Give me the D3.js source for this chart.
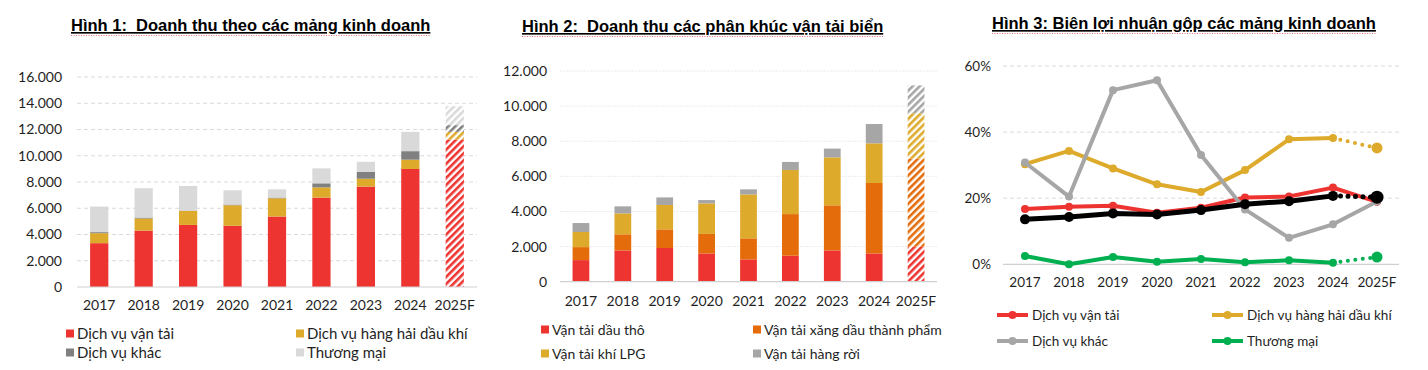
<!DOCTYPE html>
<html>
<head>
<meta charset="utf-8">
<script src="https://cdn.jsdelivr.net/npm/d3@7"></script>
<style>
  body { margin: 0; background: #fff; }
  svg { display: block; }
  .tick-label { font-family: Lato, "Open Sans", sans-serif; fill: #1f1f1f; }
  .title { font-family: "Liberation Sans", Arial, sans-serif; font-weight: bold; font-size: 16.5px; text-decoration: underline; fill: #000; white-space: pre; }
</style>
</head>
<body>
<div id="chart"></div>
<script>
// DATA
const years = ["2017", "2018", "2019", "2020", "2021", "2022", "2023", "2024", "2025F"];

// Hinh 1 - doanh thu theo mang (ty dong)
const rev_transport = [3340, 4300, 4730, 4660, 5370, 6810, 7650, 8990, 11240];
const rev_oilgas    = [760, 920, 1070, 1570, 1390, 780, 600, 710, 580];
const rev_other     = [80, 70, 20, 50, 50, 310, 530, 650, 510];
const rev_trade     = [1950, 2230, 1880, 1090, 630, 1140, 760, 1470, 1440];
const rev_names = ["Dịch vụ vận tải", "Dịch vụ hàng hải dầu khí", "Dịch vụ khác", "Thương mại"];
const rev_ticks = [0, 2000, 4000, 6000, 8000, 10000, 12000, 14000, 16000];

// Hinh 2 - doanh thu phan khuc van tai bien
const seg_crude    = [1230, 1780, 1920, 1610, 1270, 1480, 1780, 1610, 1990];
const seg_products = [740, 920, 1060, 1110, 1200, 2370, 2570, 4010, 5030];
const seg_lpg      = [860, 1190, 1390, 1740, 2500, 2510, 2730, 2260, 2570];
const seg_bulk     = [510, 400, 430, 190, 290, 460, 500, 1100, 1590];
const seg_names = ["Vận tải dầu thô", "Vận tải xăng dầu thành phẩm", "Vận tải khí LPG", "Vận tải hàng rời"];
const seg_ticks = [0, 2000, 4000, 6000, 8000, 10000, 12000];

// Hinh 3 - bien loi nhuan gop (%)
const gm_transport = [16.7, 17.4, 17.7, 15.6, 17.1, 20.2, 20.5, 23.2, 18.9];
const gm_oilgas    = [30.3, 34.3, 29.0, 24.2, 21.9, 28.5, 37.8, 38.2, 35.2];
const gm_other     = [30.8, 20.5, 52.7, 55.7, 33.1, 16.6, 8.0, 12.1, 19.0];
const gm_trade     = [2.5, 0.0, 2.2, 0.8, 1.6, 0.6, 1.2, 0.5, 2.2];
const gm_total     = [13.6, 14.3, 15.4, 15.1, 16.4, 18.2, 19.1, 20.7, 20.3];
const gm_names = ["Dịch vụ vận tải", "Dịch vụ hàng hải dầu khí", "Dịch vụ khác", "Thương mại"];
const gm_ticks = [0, 20, 40, 60];

//HELPERS
const vn = d3.formatLocale({decimal: ",", thousands: ".", grouping: [3], currency: ["", ""]});
const fmtNum = vn.format(",.0f");

const W = 1428, H = 370;
const svg = d3.select("#chart").append("svg")
    .attr("width", W)
    .attr("height", H)
    .attr("viewBox", [0, 0, W, H]);
const defs = svg.append("defs");

function hatch(id, color) {
    const p = defs.append("pattern")
        .attr("id", id)
        .attr("patternUnits", "userSpaceOnUse")
        .attr("width", 5)
        .attr("height", 5)
        .attr("patternTransform", "rotate(45)");
    p.append("rect").attr("width", 5).attr("height", 5).attr("fill", "#fff");
    p.append("rect").attr("width", 2.6).attr("height", 5).attr("fill", color);
    return `url(#${id})`;
}

function title(x, y, text) {
    const t = svg.append("text")
        .attr("class", "title")
        .attr("x", x)
        .attr("y", y)
        .text(text);
    const w = t.node().getComputedTextLength();
    // spell-check squiggle under the title
    svg.append("line")
        .attr("x1", x).attr("x2", x + w)
        .attr("y1", y + 4.5).attr("y2", y + 4.5)
        .attr("stroke", "#e05050")
        .attr("stroke-width", 0.8)
        .attr("stroke-dasharray", "1,1.5");
}

function styleAxis(a, size) {
    a.select(".domain").remove();
    a.selectAll("text").attr("class", "tick-label").style("font-size", size + "px").attr("fill", null);
}

function stackedChart(o) {
    const g = svg.append("g");
    const rows = years.map((yr, i) => {
        const r = {year: yr};
        o.keys.forEach((k, j) => r[k] = o.series[j][i]);
        return r;
    });
    const stacked = d3.stack().keys(o.keys)(rows);

    const x = d3.scaleBand(years, [o.left, o.right]).paddingInner(o.pad).paddingOuter(o.pad / 2);
    const y = d3.scaleLinear([0, d3.max(o.ticks)], [o.bottom, o.top]);

    // grid
    g.append("g")
        .selectAll("line")
        .data(o.ticks.filter(d => d > 0))
        .join("line")
            .attr("x1", o.left).attr("x2", o.right)
            .attr("y1", d => y(d)).attr("y2", d => y(d))
            .attr("stroke", o.gridColor)
            .attr("stroke-dasharray", o.gridDash);

    const fills = o.colors.map((c, j) => hatch(`${o.id}-h${j}`, c));

    g.append("g")
        .selectAll("g")
        .data(stacked)
        .join("g")
        .each(function(s, j) {
            d3.select(this).selectAll("rect")
                .data(s)
                .join("rect")
                    .attr("x", d => x(d.data.year))
                    .attr("width", x.bandwidth())
                    .attr("y", d => y(d[1]))
                    .attr("height", d => y(d[0]) - y(d[1]))
                    .attr("fill", d => d.data.year.endsWith("F") ? fills[j] : o.colors[j]);
        });

    // baseline
    g.append("line")
        .attr("x1", o.left).attr("x2", o.right)
        .attr("y1", y(0)).attr("y2", y(0))
        .attr("stroke", "#d0d0d0")
        .attr("stroke-width", 1.2);

    g.append("g")
        .attr("transform", `translate(${o.labelX},0)`)
        .call(d3.axisLeft(y).tickValues(o.ticks).tickFormat(fmtNum).tickSize(0).tickPadding(0))
        .call(a => styleAxis(a, o.fs));

    g.append("g")
        .attr("transform", `translate(0,${o.bottom})`)
        .call(d3.axisBottom(x).tickSize(0).tickPadding(o.xPad))
        .call(a => styleAxis(a, o.fs));

    // legend
    const leg = g.append("g");
    o.names.forEach((n, j) => {
        const lx = o.legX[j % 2];
        const ly = o.legY[Math.floor(j / 2)];
        leg.append("rect")
            .attr("x", lx).attr("y", ly - 4.5)
            .attr("width", 8).attr("height", 8)
            .attr("fill", o.colors[j]);
        leg.append("text")
            .attr("class", "tick-label")
            .attr("x", lx + 11).attr("y", ly)
            .attr("dy", "0.35em")
            .style("font-size", o.legFs + "px")
            .text(n);
    });
}

function lineChart(o) {
    const g = svg.append("g");
    const x = d3.scaleBand(years, [o.left, o.right]);
    const cx = d => x(d) + x.bandwidth() / 2;
    const y = d3.scaleLinear([0, d3.max(o.ticks)], [o.bottom, o.top]);

    g.append("g")
        .selectAll("line")
        .data(o.ticks.filter(d => d > 0))
        .join("line")
            .attr("x1", o.left).attr("x2", o.right)
            .attr("y1", d => y(d)).attr("y2", d => y(d))
            .attr("stroke", "#d9d9d9")
            .attr("stroke-dasharray", "4,3");
    g.append("line")
        .attr("x1", o.left).attr("x2", o.right)
        .attr("y1", y(0)).attr("y2", y(0))
        .attr("stroke", "#d0d0d0")
        .attr("stroke-width", 1.2);

    const line = d3.line().x(d => cx(d[0])).y(d => y(d[1]));

    o.lines.forEach(s => {
        const pts = years.map((yr, i) => [yr, s.values[i]]);
        const solid = s.dotted ? pts.slice(0, -1) : pts;
        g.append("path")
            .attr("d", line(solid))
            .attr("fill", "none")
            .attr("stroke", s.color)
            .attr("stroke-width", s.width)
            .attr("stroke-linejoin", "round");
        if (s.dotted) {
            g.append("path")
                .attr("d", line(pts.slice(-2)))
                .attr("fill", "none")
                .attr("stroke", s.color)
                .attr("stroke-width", s.width)
                .attr("stroke-linecap", "round")
                .attr("stroke-dasharray", "0,7.5");
        }
        g.append("g")
            .selectAll("circle")
            .data(pts)
            .join("circle")
                .attr("cx", d => cx(d[0]))
                .attr("cy", d => y(d[1]))
                .attr("r", (d, i) => s.dotted && i === pts.length - 1 ? s.r + 1.5 : s.r)
                .attr("fill", s.color);
    });

    g.append("g")
        .attr("transform", `translate(${o.labelX},0)`)
        .call(d3.axisLeft(y).tickValues(o.ticks).tickFormat(d => d + "%").tickSize(0).tickPadding(0))
        .call(a => styleAxis(a, o.fs));

    g.append("g")
        .attr("transform", `translate(0,${o.bottom})`)
        .call(d3.axisBottom(x).tickSize(0).tickPadding(o.xPad))
        .call(a => styleAxis(a, o.fs));

    const leg = g.append("g");
    o.lines.filter(s => s.name).forEach((s, j) => {
        const lx = o.legX[j % 2];
        const ly = o.legY[Math.floor(j / 2)];
        leg.append("line")
            .attr("x1", lx).attr("x2", lx + 31)
            .attr("y1", ly).attr("y2", ly)
            .attr("stroke", s.color)
            .attr("stroke-width", 4);
        leg.append("circle")
            .attr("cx", lx + 15.5).attr("cy", ly).attr("r", 4)
            .attr("fill", s.color);
        leg.append("text")
            .attr("class", "tick-label")
            .attr("x", lx + 35).attr("y", ly)
            .attr("dy", "0.35em")
            .style("font-size", o.legFs + "px")
            .text(s.name);
    });
}

// Hinh 1
title(71, 31, "Hình 1:  Doanh thu theo các mảng kinh doanh");
stackedChart({
    id: "c1",
    keys: ["transport", "oilgas", "other", "trade"],
    series: [rev_transport, rev_oilgas, rev_other, rev_trade],
    colors: ["#ee3431", "#ddaa2b", "#808080", "#d9d9d9"],
    names: rev_names,
    ticks: rev_ticks,
    left: 77, right: 477, top: 77, bottom: 287, pad: 0.59,
    labelX: 62, xPad: 13, fs: 14, legFs: 15,
    gridColor: "#d9d9d9", gridDash: "4,3",
    legX: [66, 296], legY: [334, 353]
});

// Hinh 2
title(522, 32, "Hình 2:  Doanh thu các phân khúc vận tải biển");
stackedChart({
    id: "c2",
    keys: ["crude", "products", "lpg", "bulk"],
    series: [seg_crude, seg_products, seg_lpg, seg_bulk],
    colors: ["#ee3431", "#e46c0a", "#ddaa2b", "#a6a6a6"],
    names: seg_names,
    ticks: seg_ticks,
    left: 560, right: 937, top: 71, bottom: 281.7, pad: 0.6,
    labelX: 547, xPad: 14, fs: 14, legFs: 14,
    gridColor: "#ececec", gridDash: "2,1",
    legX: [541, 753], legY: [330, 354]
});

// Hinh 3
title(992, 29, "Hình 3: Biên lợi nhuận gộp các mảng kinh doanh");
lineChart({
    ticks: gm_ticks,
    left: 1003, right: 1399, top: 66, bottom: 264.3,
    labelX: 991, xPad: 13, fs: 13.5, legFs: 13.5,
    legX: [997, 1212], legY: [315, 341],
    lines: [
        {name: gm_names[0], values: gm_transport, color: "#ee3431", width: 4, r: 4, dotted: false},
        {name: gm_names[1], values: gm_oilgas, color: "#ddaa2b", width: 4, r: 4, dotted: true},
        {name: gm_names[2], values: gm_other, color: "#a6a6a6", width: 4, r: 4, dotted: false},
        {name: gm_names[3], values: gm_trade, color: "#00b050", width: 4, r: 4, dotted: true},
        {name: null, values: gm_total, color: "#000000", width: 5, r: 5, dotted: true}
    ]
});
</script>
</body>
</html>
